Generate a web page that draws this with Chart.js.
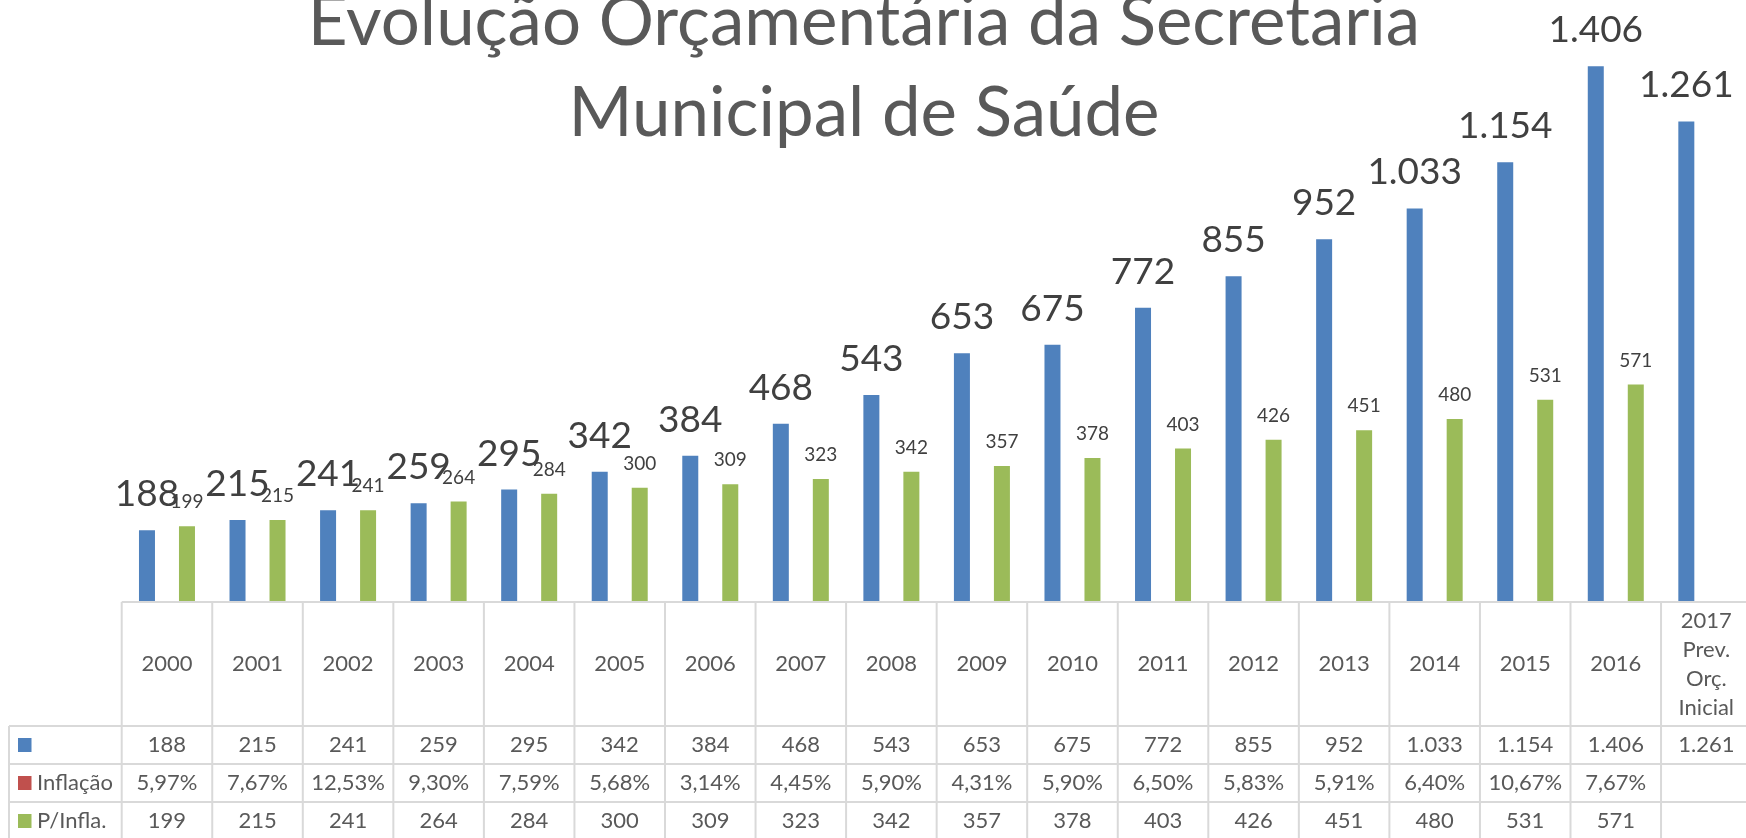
<!DOCTYPE html>
<html>
<head>
<meta charset="utf-8">
<script src="https://cdn.jsdelivr.net/npm/chart.js@4.4.1/dist/chart.umd.min.js"></script>
<style>
html,body{margin:0;padding:0;background:#fff;overflow:hidden;width:1746px;height:838px;}
#wrap{position:absolute;left:0;top:0;width:1760px;height:838px;}
</style>
</head>
<body>
<div id="wrap"><canvas id="c" width="1760" height="838"></canvas></div>
<script>
// ---- data ----
const titleLines = ['Evolução Orçamentária da Secretaria', 'Municipal de Saúde'];
const categories = ['2000','2001','2002','2003','2004','2005','2006','2007','2008','2009','2010','2011','2012','2013','2014','2015','2016',['2017','Prev.','Orç.','Inicial']];
const seriesNames = ['', 'Inflação', 'P/Infla.'];
const orcamento = [188,215,241,259,295,342,384,468,543,653,675,772,855,952,1033,1154,1406,1261];
const inflacao = [5.97,7.67,12.53,9.30,7.59,5.68,3.14,4.45,5.90,4.31,5.90,6.50,5.83,5.91,6.40,10.67,7.67,null];
const pInfla = [199,215,241,264,284,300,309,323,342,357,378,403,426,451,480,531,571,null];

const BLUE = '#4F81BD', RED = '#C0504D', GREEN = '#9BBB59';
const FONT = 'Lato, "Open Sans", sans-serif';

function fmtInt(v){
  if (v === null || v === undefined) return '';
  const s = String(Math.round(v));
  return s.replace(/\B(?=(\d{3})+(?!\d))/g, '.');
}
function fmtPct(v){
  if (v === null || v === undefined) return '';
  return v.toFixed(2).replace('.', ',') + '%';
}

const W = 1760, H = 838;
const tableTop = 602;
const rowBounds = [602, 726, 764, 802, 840];

const labelsPlugin = {
  id: 'barLabels',
  afterDatasetsDraw(chart){
    const ctx = chart.ctx;
    ctx.save();
    ctx.textAlign = 'center';
    ctx.textBaseline = 'middle';
    // blue labels (large)
    const m0 = chart.getDatasetMeta(0);
    ctx.fillStyle = '#404040';
    ctx.font = '400 37px ' + FONT;
    m0.data.forEach((bar, i) => {
      if (orcamento[i] == null) return;
      ctx.fillText(fmtInt(orcamento[i]), bar.x, bar.y - 36);
    });
    // green labels (small)
    const m2 = chart.getDatasetMeta(2);
    ctx.font = '400 19px ' + FONT;
    m2.data.forEach((bar, i) => {
      if (pInfla[i] == null) return;
      ctx.fillText(fmtInt(pInfla[i]), bar.x, bar.y - 24);
    });
    ctx.restore();
  }
};

const tablePlugin = {
  id: 'dataTable',
  afterDraw(chart){
    const ctx = chart.ctx;
    const xs = chart.scales.x;
    const n = categories.length;
    const left = chart.chartArea.left, right = chart.chartArea.right;
    const cw = (right - left) / n;
    const legendLeft = 9;
    ctx.save();
    ctx.strokeStyle = '#D9D9D9';
    ctx.lineWidth = 2;
    ctx.beginPath();
    ctx.moveTo(left, rowBounds[0]); ctx.lineTo(right, rowBounds[0]);
    for (let r = 1; r < rowBounds.length; r++){
      ctx.moveTo(legendLeft, rowBounds[r]); ctx.lineTo(right, rowBounds[r]);
    }
    for (let i = 0; i <= n; i++){
      const x = left + i * cw;
      ctx.moveTo(x, rowBounds[0]); ctx.lineTo(x, H);
    }
    ctx.moveTo(legendLeft, rowBounds[1]); ctx.lineTo(legendLeft, H);
    ctx.stroke();

    ctx.fillStyle = '#595959';
    ctx.font = '400 22px ' + FONT;
    ctx.textAlign = 'center';
    ctx.textBaseline = 'middle';
    const hMid = (rowBounds[0] + rowBounds[1]) / 2;
    for (let i = 0; i < n; i++){
      const cx = xs.getPixelForTick(i);
      const lab = categories[i];
      if (Array.isArray(lab)){
        const lh = 29;
        const y0 = hMid - lh * (lab.length - 1) / 2;
        lab.forEach((t, k) => ctx.fillText(t, cx, y0 + k * lh));
      } else {
        ctx.fillText(lab, cx, hMid);
      }
    }
    const rows = [
      {vals: orcamento.map(fmtInt), color: BLUE, name: seriesNames[0]},
      {vals: inflacao.map(fmtPct), color: RED, name: seriesNames[1]},
      {vals: pInfla.map(fmtInt), color: GREEN, name: seriesNames[2]}
    ];
    rows.forEach((row, r) => {
      const mid = (rowBounds[r+1] + rowBounds[r+2]) / 2;
      for (let i = 0; i < n; i++){
        ctx.fillText(row.vals[i], xs.getPixelForTick(i), mid);
      }
      ctx.fillStyle = row.color;
      ctx.fillRect(18, mid - 7, 13.5, 14);
      ctx.fillStyle = '#595959';
      ctx.textAlign = 'left';
      ctx.fillText(row.name, 37, mid);
      ctx.textAlign = 'center';
    });

    // title
    ctx.fillStyle = '#595959';
    ctx.font = '400 69px ' + FONT;
    ctx.textAlign = 'center';
    ctx.textBaseline = 'alphabetic';
    ctx.fillText(titleLines[0], 864, 45);
    ctx.fillText(titleLines[1], 864, 136);
    ctx.restore();
  }
};

function build(){
  new Chart(document.getElementById('c'), {
    type: 'bar',
    data: {
      labels: categories,
      datasets: [
        {label: seriesNames[0], data: orcamento, backgroundColor: BLUE, borderWidth: 0},
        {label: seriesNames[1], data: inflacao.map(v => v == null ? null : v / 100), backgroundColor: RED, borderWidth: 0},
        {label: seriesNames[2], data: pInfla, backgroundColor: GREEN, borderWidth: 0}
      ]
    },
    options: {
      responsive: false,
      devicePixelRatio: 1,
      animation: false,
      datasets: {bar: {categoryPercentage: 0.6626, barPercentage: 0.8}},
      layout: {padding: {left: 121.7, right: W - 1751.6, top: 30.5, bottom: H - tableTop}},
      scales: {
        x: {display: false, offset: true, grid: {display: false}},
        y: {display: false, min: 0, max: 1500, grid: {display: false}}
      },
      plugins: {legend: {display: false}, tooltip: {enabled: false}, title: {display: false}}
    },
    plugins: [labelsPlugin, tablePlugin]
  });
}
if (document.fonts && document.fonts.load){
  Promise.all([document.fonts.load('22px Lato'), document.fonts.load('69px Lato')]).then(build, build);
} else { build(); }
</script>
</body>
</html>
